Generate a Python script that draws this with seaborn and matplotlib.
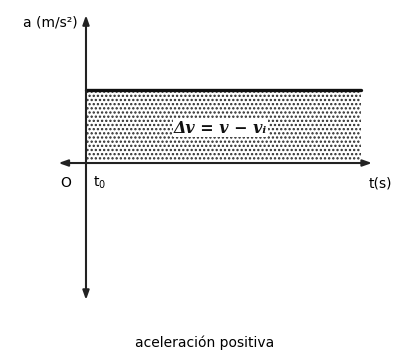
import matplotlib
matplotlib.use("Agg")
import matplotlib.pyplot as plt
import seaborn as sns
import pandas as pd

# data: constant positive acceleration between t0 and t
tiempo = [0, 10]
aceleracion = [2, 2]
eje_x = [-1.0, 10.4]   # horizontal axis extent (arrows)
eje_y = [-3.75, 4.05]  # vertical axis extent (arrows)

sns.set_theme(style="white")
plt.rcParams['font.family'] = ['DejaVu Sans']
plt.rcParams['hatch.linewidth'] = 1.1

fig = plt.figure(figsize=(3.99, 3.58), dpi=100)
ax = fig.add_axes([0, 0, 1, 1])
ax.set_xlim(-3.127, 11.382)
ax.set_ylim(-5.342, 4.466)
ax.axis("off")

df = pd.DataFrame({"t": tiempo, "a": aceleracion})

# shaded area = delta v
ax.fill_between(df["t"], 0.06, df["a"] - 0.06, facecolor="white", edgecolor="#2a2a2a",
                hatch="....", linewidth=0)

sns.lineplot(data=df, x="t", y="a", color="#111111", linewidth=2.4, ax=ax)

# axes with arrows
arrow = dict(arrowstyle="-|>,head_length=0.45,head_width=0.16", color="#222222",
             lw=1.5, shrinkA=0, shrinkB=0)
ax.annotate("", xy=(eje_x[1], 0), xytext=(0, 0), arrowprops=arrow)
ax.annotate("", xy=(eje_x[0], 0), xytext=(0, 0), arrowprops=arrow)
ax.annotate("", xy=(0, eje_y[1]), xytext=(0, 0), arrowprops=arrow)
ax.annotate("", xy=(0, eje_y[0]), xytext=(0, 0), arrowprops=arrow)

ax.text(4.9, 0.95, "Δv = v − vᵢ", family=["DejaVu Serif", "DejaVu Sans"],
        style="italic", fontweight="bold", ha="center", va="center",
        fontsize=11.5, color="#111111",
        bbox=dict(facecolor="white", edgecolor="none", pad=0.5))
ax.text(-0.3, eje_y[1] - 0.2, "a (m/s²)", ha="right", va="center", fontsize=10,
        color="black")
ax.text(-0.75, -0.55, "O", ha="center", va="center", fontsize=10, color="black")
ax.text(0.25, -0.55, "t$_0$", ha="left", va="center", fontsize=10, color="black")
ax.text(eje_x[1] + 0.3, -0.55, "t(s)", ha="center", va="center", fontsize=10,
        color="black")
ax.text(4.33, -4.93, "aceleración positiva", ha="center", va="center", fontsize=10,
        color="black")

fig.savefig("out.png", dpi=100)
